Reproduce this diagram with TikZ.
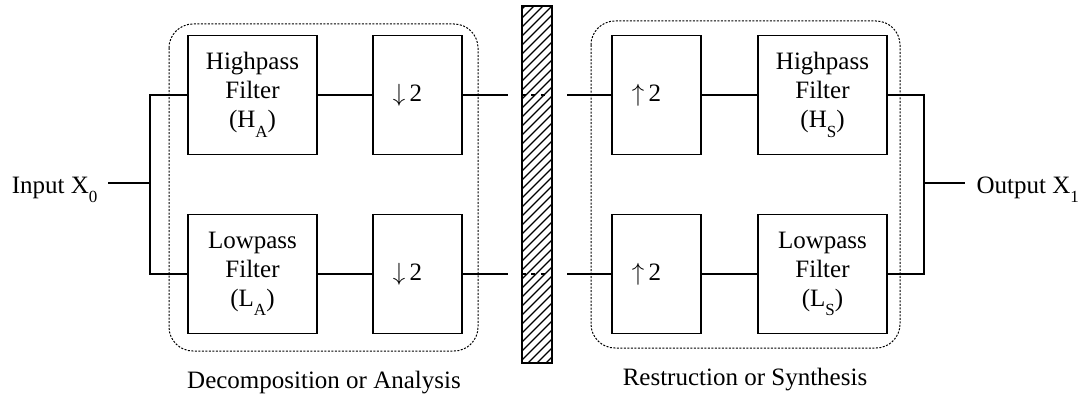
\documentclass[tikz,border=0pt]{standalone}
\usepackage{fontspec}
\setmainfont{Liberation Serif}
\tikzset{blk/.style = {draw, line width = 1.1pt, inner sep = 0, align = center,
    minimum height = 119pt, font = \fontsize{25}{29}\selectfont}}
\tikzset{filt/.style = {blk, minimum width = 129pt}}
\tikzset{rate/.style = {blk, minimum width = 89pt}}
\tikzset{lbl/.style = {inner sep = 0, font = \fontsize{25}{29}\selectfont}}
\tikzset{zone/.style = {line width = 1pt, dash pattern = on 2pt off 1.5pt, rounded corners = 24pt}}
\newcommand{\lowsub}[1]{\raisebox{-0.38em}{\fontsize{17}{17}\selectfont #1}}

\begin{document}
\begin{tikzpicture}[x = 1pt, y = -1pt, line width = 1.1pt]
      \useasboundingbox (0, 0) rectangle (1087, 396);
      % analysis and synthesis zones
      \draw [zone] (169, 24) rectangle (478, 351);
      \draw [zone] (591, 21) rectangle (900, 348);
      % channel bar
      \begin{scope}
        \clip (522, 6) rectangle (552, 363);
        \foreach \k in {0, 9, ..., 396}
          \draw [line width = 1.1pt] (522, \k) -- (552, \k - 30);
      \end{scope}
      \draw [line width = 1.3pt] (522, 6) rectangle (552, 363);
      % blocks
      \node [filt] (hpA) at (252.5, 95) {Highpass\\Filter\\(H\lowsub{A})};
      \node [rate] (dsH) at (417.5, 95) {$\downarrow$\,2\hspace{20pt}};
      \node [rate] (usH) at (656.5, 95) {$\uparrow$\,2\hspace{20pt}};
      \node [filt] (hpS) at (822.5, 95) {Highpass\\Filter\\(H\lowsub{S})};
      \node [filt] (lpA) at (252.5, 274) {Lowpass\\Filter\\(L\lowsub{A})};
      \node [rate] (dsL) at (417.5, 274) {$\downarrow$\,2\hspace{20pt}};
      \node [rate] (usL) at (656.5, 274) {$\uparrow$\,2\hspace{20pt}};
      \node [filt] (lpS) at (822.5, 274) {Lowpass\\Filter\\(L\lowsub{S})};
      % input and output
      \node [lbl, anchor = base east] (in) at (98, 193) {Input X\lowsub{0}};
      \node [lbl, anchor = base west] (out) at (976, 193) {Output X\lowsub{1}};
      \coordinate (inJ) at (150, 183);
      \coordinate (outJ) at (924, 183);
      \draw ([xshift = 10pt]in.east |- inJ) -- (inJ);
      \draw (hpA.west) -| (inJ) |- (lpA.west);
      \draw (outJ) -- ([xshift = -11pt]out.west |- outJ);
      \draw (hpS.east) -| (outJ) |- (lpS.east);
      % through the channel
      \draw (hpA) -- (dsH);
      \draw (lpA) -- (dsL);
      \draw (usH) -- (hpS);
      \draw (usL) -- (lpS);
      \coordinate (gH1) at (508, 95);
      \coordinate (gH2) at (567, 95);
      \coordinate (gL1) at (508, 274);
      \coordinate (gL2) at (567, 274);
      \draw (dsH) -- (gH1);
      \draw (gH2) -- (usH);
      \draw (dsL) -- (gL1);
      \draw (gL2) -- (usL);
      \draw [line width = 1.8pt, dash pattern = on 4pt off 5.5pt] (521.5, 95) -- (548, 95);
      \draw [line width = 1.8pt, dash pattern = on 4pt off 5.5pt] (521.5, 274) -- (548, 274);
      % captions
      \node [lbl, anchor = base] (capA) at (324, 388) {Decomposition or Analysis};
      \node [lbl, anchor = base] (capS) at (745, 385) {Restruction or Synthesis};
    \end{tikzpicture}
\end{document}
